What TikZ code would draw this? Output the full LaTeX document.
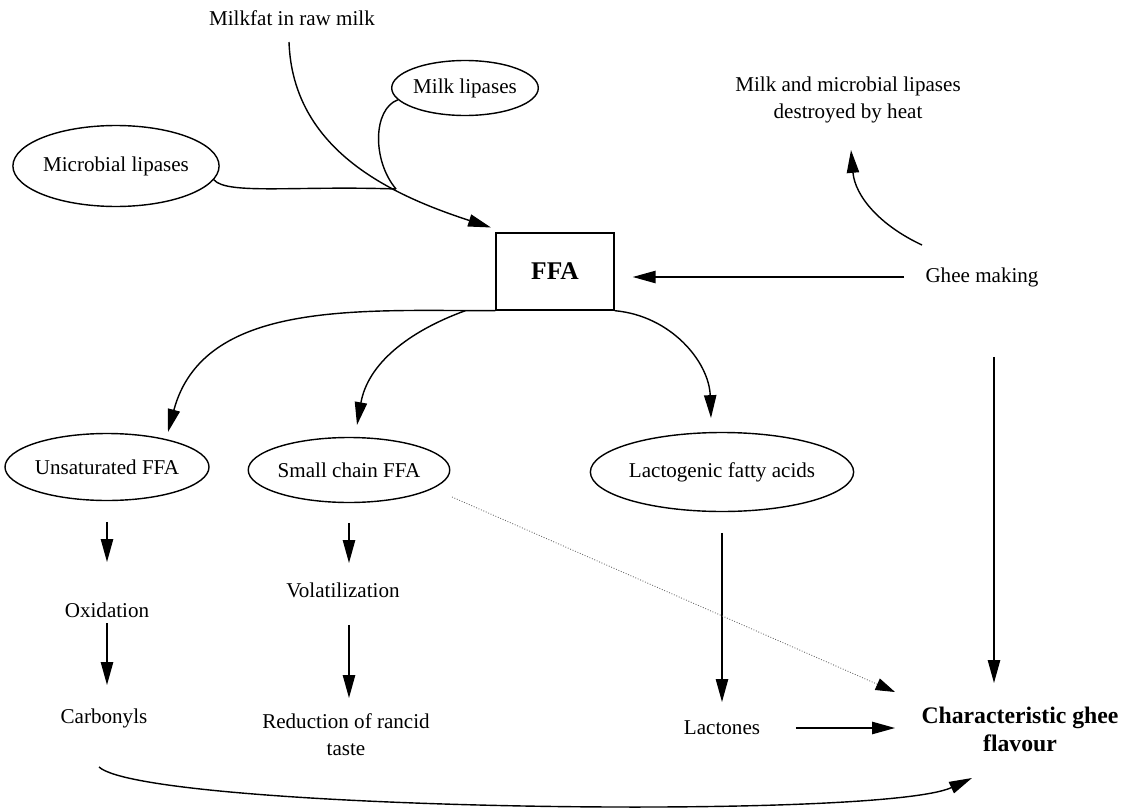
\documentclass[tikz,border=0pt]{standalone}
\usepackage{fontspec}
\setmainfont{Liberation Serif}
\usepackage{tikz}
\usetikzlibrary{arrows.meta,shapes.geometric}
\tikzset{
  ovalbox/.style={
    ellipse,
    draw=black,
    line width=0.8pt,
    inner sep=0pt,
    align=center,
    font=\fontsize{12}{15}\selectfont
  },
  ffabox/.style={
    rectangle,
    draw=black,
    line width=0.8pt,
    minimum width=2.36cm,
    minimum height=1.54cm,
    font=\fontsize{14.5}{17}\selectfont\bfseries
  },
  txt/.style={
    inner sep=2pt,
    align=center,
    font=\fontsize{12}{15}\selectfont
  },
  goal/.style={
    inner sep=2pt,
    align=center,
    font=\fontsize{13.5}{16}\selectfont\bfseries
  },
  flow/.style={-{Triangle[length=13pt,width=7pt]}, line width=0.8pt, black},
  faint/.style={-{Triangle[length=11pt,width=7pt,black]}, line width=0.5pt, densely dotted, black!60}
}

\begin{document}
\begin{tikzpicture}[x=0.02cm,y=-0.02cm]
\useasboundingbox (0,0) rectangle (1137,808);
\node[txt] (milkfat) at (292,18) {Milkfat in raw milk};
\node[ovalbox, minimum width=2.72cm, minimum height=1.1cm] (mlip) at (465,88) {Milk lipases};
\node[ovalbox, minimum width=3.4cm, minimum height=1.62cm] (mblip) at (116,166) {Microbial lipases};
\node[ffabox] (ffa) at (555,271.5) {FFA};
\node[txt] (destr) at (848,100) {Milk and microbial lipases\\destroyed by heat};
\node[txt] (ghee) at (982,277) {Ghee making};
\node[ovalbox, minimum width=3.96cm, minimum height=1.34cm] (unsat) at (107,467) {Unsaturated FFA};
\node[ovalbox, minimum width=3.5cm, minimum height=1.3cm] (small) at (349,470) {Small chain FFA};
\node[ovalbox, minimum width=4.8cm, minimum height=1.58cm] (lacto) at (722,472) {Lactogenic fatty acids};
\node[txt] (oxid) at (107,610) {Oxidation};
\node[txt] (carb) at (104,718) {Carbonyls};
\node[txt] (vol) at (343,590) {Volatilization};
\node[txt] (red) at (346,734.5) {Reduction of rancid\\taste};
\node[txt] (lact) at (722,728) {Lactones};
\node[goal] (flav) at (1020,729) {Characteristic ghee\\flavour};
\coordinate (join) at (396,189);

\draw[flow] ([shift={(-3,24)}]milkfat.center) to[out=-88,in=162] ([shift={(-64,-44)}]ffa.center);
\draw[line width=0.8pt] (mlip.190) to[out=200,in=130,out distance=0.53cm,in distance=0.75cm] (join);
\draw[line width=0.8pt] (mblip.-8) to[out=-50,in=178,out distance=0.4cm,in distance=2cm] (join);
\draw[flow, shorten <=1.56cm, shorten >=0.36cm] (ghee.center) -- (ghee.center -| ffa.east);
\draw[flow] ([shift={(-60,-32)}]ghee.center) to[out=155,in=-85] ([shift={(3,50)}]destr.center);
\draw[flow, shorten <=1.6cm, shorten >=0.92cm] ([xshift=0.24cm]ghee.center) -- ([xshift=0.24cm]ghee.center |- flav.center);
\draw[flow] (ffa.south west) to[out=180,in=75] ([shift={(61,-35)}]unsat.center);
\draw[flow] ([xshift=-0.6cm]ffa.south west) to[out=200,in=80] ([shift={(8,-45)}]small.center);
\draw[flow] (ffa.south east) to[out=-5,in=92] ([shift={(-11,-54)}]lacto.center);
\draw[flow, shorten <=1.1cm, shorten >=0.96cm] (unsat.center) -- (oxid.center);
\draw[flow, shorten <=0.26cm, shorten >=0.66cm] (oxid.center) -- (oxid.center |- carb.center);
\draw[flow, shorten <=1.06cm, shorten >=0.54cm] (small.center) -- (small.center |- vol.center);
\draw[flow, shorten <=0.7cm, shorten >=0.73cm] (small.center |- vol.center) -- (small.center |- red.center);
\draw[flow, shorten <=1.22cm, shorten >=0.52cm] (lacto.center) -- (lact.center);
\draw[flow, shorten <=1.48cm, shorten >=2.5cm] (lact.center) -- (lact.center -| flav.center);
\draw[faint] ([shift={(103,27)}]small.center) -- ([shift={(-125,-37)}]flav.center);
\draw[flow] ([shift={(-5,49)}]carb.center) to[out=-42,in=205,out distance=1.29cm,in distance=2.02cm] ([shift={(-48,49)}]flav.center);
\end{tikzpicture}
\end{document}
